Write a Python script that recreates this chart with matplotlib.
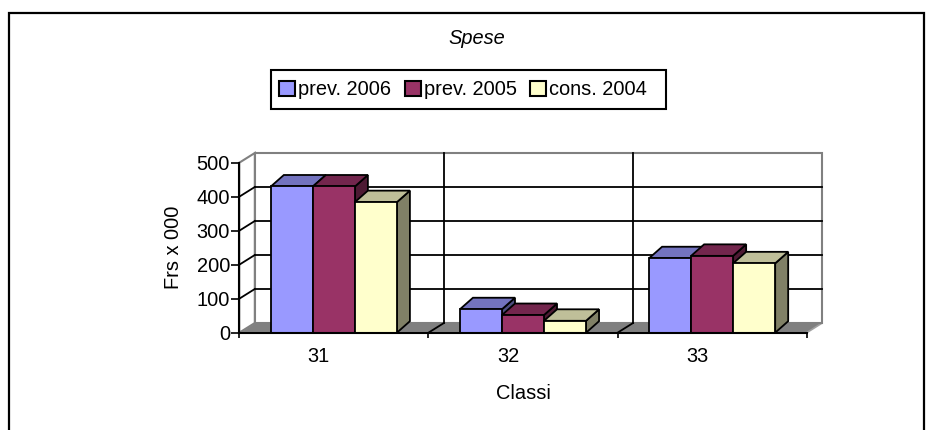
import matplotlib
matplotlib.use('Agg')
import matplotlib.pyplot as plt
from matplotlib.patches import Polygon, Rectangle, Patch
from matplotlib.lines import Line2D
import matplotlib.transforms as mtransforms
import numpy as np

# ---- data ----
categories = ['31', '32', '33']
series_names = ['prev. 2006', 'prev. 2005', 'cons. 2004']
prev_2006 = [430, 69, 219]
prev_2005 = [430, 52, 226]
cons_2004 = [384, 35, 204]
y_ticks = [0, 100, 200, 300, 400, 500]
title = 'Spese'
x_label = 'Classi'
y_label = 'Frs x 000'

# ---- style ----
front_colors = ['#9999FF', '#993366', '#FFFFCC']
top_colors = ['#7373BF', '#73264D', '#BFBF99']
side_colors = ['#4D4D80', '#4D1A33', '#808066']

W, H = 934, 430
DPI = 100
plt.rcParams['font.family'] = ['Liberation Sans', 'DejaVu Sans']
FS = 14.4

fig = plt.figure(figsize=(W / DPI, H / DPI), dpi=DPI)
fig.patch.set_facecolor('white')

# pixel geometry of the plot area
X0, X3 = 239.3, 806.7
Y0, Y500 = 332.7, 162.7
ncat = len(categories)
ymax = y_ticks[-1]
PXX = (X3 - X0) / ncat
PXY = (Y0 - Y500) / ymax
xlim = (-0.2, ncat + 0.2)
ylim = (-20, ymax + 40)
left = X0 + xlim[0] * PXX
width = (xlim[1] - xlim[0]) * PXX
bottom_top = Y0 - ylim[0] * PXY
height = (ylim[1] - ylim[0]) * PXY
ax = fig.add_axes([left / W, (H - bottom_top) / H, width / W, height / H])
ax.set_xlim(xlim)
ax.set_ylim(ylim)
ax.patch.set_visible(False)

# depth offsets (px -> data)
WDX, WDY = 15.5 / PXX, 9.7 / PXY
BDX, BDY = 13.0 / PXX, 11.5 / PXY

GRAY = '#808080'
# floor
ax.add_patch(Polygon([(0, 0), (ncat, 0), (ncat + WDX, WDY), (WDX, WDY)],
                     closed=True, facecolor=GRAY, edgecolor='#A0A0A0', lw=1.2, zorder=1))
# back wall
ax.add_patch(Rectangle((WDX, WDY), ncat, ymax, facecolor='white',
                       edgecolor=GRAY, lw=1.5, zorder=1))
# left wall
ax.add_patch(Polygon([(0, 0), (WDX, WDY), (WDX, ymax + WDY), (0, ymax)],
                     closed=True, facecolor='white', edgecolor=GRAY, lw=1.5, zorder=1))

# gridlines
for v in y_ticks[1:-1]:
    ax.plot([WDX, ncat + WDX], [v + WDY, v + WDY], color='black', lw=1.3, zorder=2)
    ax.plot([0, WDX], [v, v + WDY], color='black', lw=1.3, zorder=2)
for c in range(1, ncat):
    ax.plot([c + WDX, c + WDX], [WDY, ymax + WDY], color='black', lw=1.3, zorder=2)
    ax.plot([c, c + WDX], [0, WDY], color='black', lw=1.3, zorder=2)

# bars
series = [prev_2006, prev_2005, cons_2004]
ns = len(series)
w = 1.0 / (ns + 1.5)
for i in range(ncat):
    start = i + (1 - ns * w) / 2
    for j, vals in enumerate(series):
        h = vals[i]
        x0 = start + j * w
        x1 = x0 + w
        ax.add_patch(Polygon([(x1, 0), (x1 + BDX, BDY), (x1 + BDX, h + BDY), (x1, h)],
                             closed=True, facecolor=side_colors[j], edgecolor='black',
                             lw=1.3, joinstyle='miter', zorder=3))
        ax.add_patch(Polygon([(x0, h), (x1, h), (x1 + BDX, h + BDY), (x0 + BDX, h + BDY)],
                             closed=True, facecolor=top_colors[j], edgecolor='black',
                             lw=1.3, joinstyle='miter', zorder=3))
        ax.add_patch(Polygon([(x0, 0), (x1, 0), (x1, h), (x0, h)],
                             closed=True, facecolor=front_colors[j], edgecolor='black',
                             lw=1.3, joinstyle='miter', zorder=3))

# axes spines / ticks
for s in ['top', 'right']:
    ax.spines[s].set_visible(False)
ax.spines['left'].set_position(('data', 0))
ax.spines['left'].set_bounds(0, ymax)
ax.spines['bottom'].set_position(('data', 0))
ax.spines['bottom'].set_bounds(0, ncat)
for s in ['left', 'bottom']:
    ax.spines[s].set_linewidth(1.5)
    ax.spines[s].set_color('black')
    ax.spines[s].set_zorder(4)

ax.set_yticks(y_ticks)
ax.set_yticklabels([str(t) for t in y_ticks])
ax.tick_params(axis='y', direction='out', length=5.5, width=1.2, pad=1.2, labelsize=FS)
ax.set_xticks(np.arange(ncat + 1), minor=True)
ax.set_xticks(np.arange(ncat) + 0.5)
ax.set_xticklabels(categories)
ax.tick_params(axis='x', which='major', length=0, pad=10.5, labelsize=FS)
ax.tick_params(axis='x', which='minor', direction='out', length=3.6, width=1.2)
shift = mtransforms.ScaledTranslation(-15 / DPI, 0, fig.dpi_scale_trans)
for lab in ax.get_xticklabels():
    lab.set_transform(lab.get_transform() + shift)

# texts
fig.text(173.3 / W, 1 - 247.5 / H, y_label, rotation=90, ha='center', va='center', fontsize=FS)
fig.text(523 / W, 1 - 393.5 / H, x_label, ha='center', va='center', fontsize=FS)
fig.text(477 / W, 1 - 39 / H, title, ha='center', va='center', fontsize=FS, style='italic')

# legend
handles = [Patch(facecolor=c, edgecolor='black', linewidth=1.5) for c in front_colors]
fig.legend(handles, series_names, loc='center left', bbox_to_anchor=(279 / W, 1 - 89.7 / H),
           ncol=3, frameon=False, fontsize=FS, handlelength=0.8, handleheight=0.8,
           handletextpad=0.15, columnspacing=0.68, borderpad=0, borderaxespad=0)
fig.add_artist(Rectangle((270.7 / W, 1 - 109.3 / H), (666 - 270.7) / W, 39.3 / H,
                         transform=fig.transFigure, facecolor='none', edgecolor='black', lw=1.5))

# outer frame
fx0, fy0, fx1 = 9.3 / W, 1 - 12.7 / H, 924 / W
fig.add_artist(Line2D([fx0, fx0, fx1, fx1], [0, fy0, fy0, 0], transform=fig.transFigure,
                      color='black', lw=1.6, solid_joinstyle='miter'))

fig.savefig('out.png', dpi=DPI)
